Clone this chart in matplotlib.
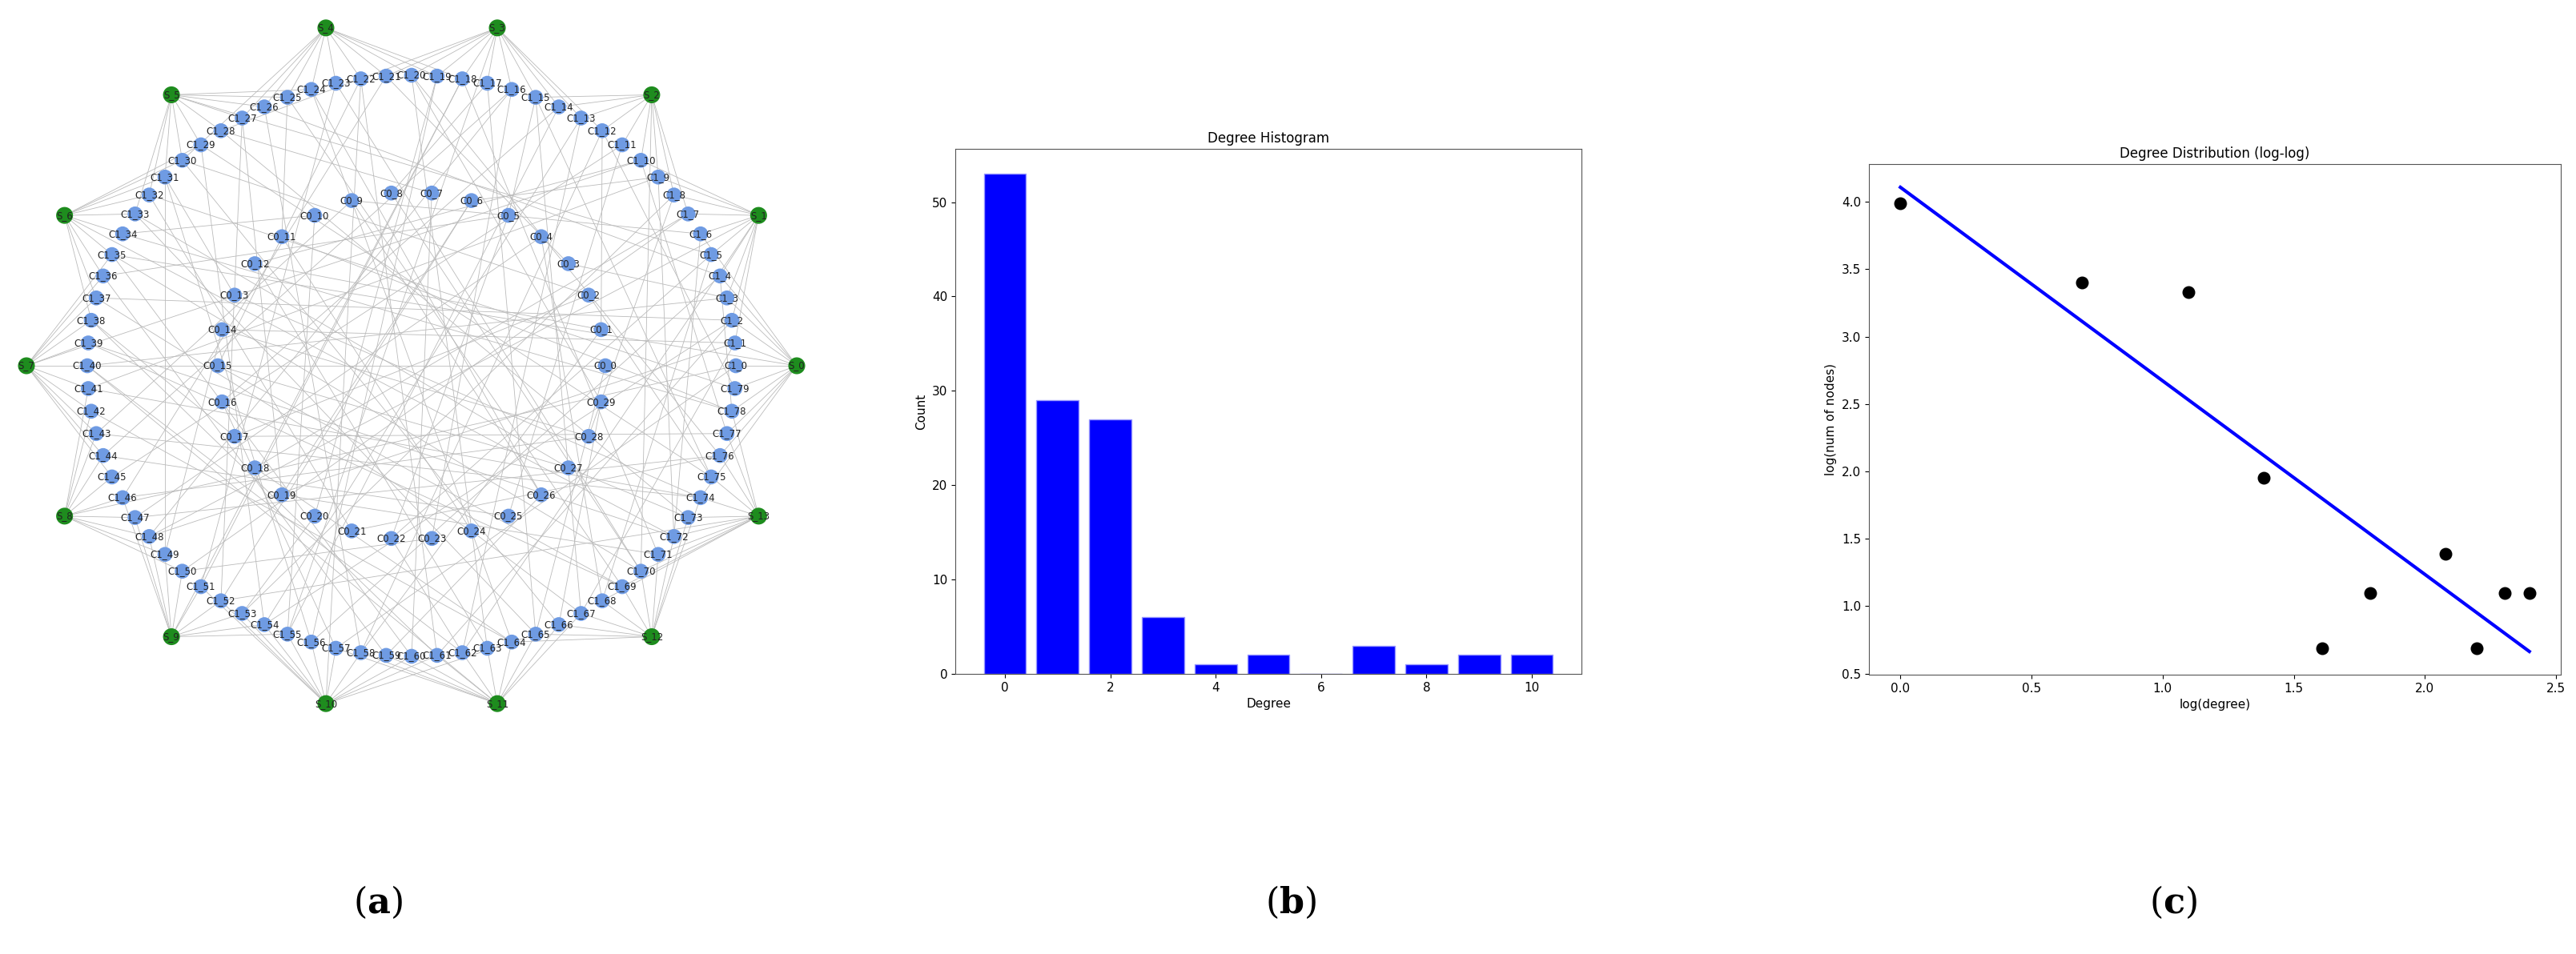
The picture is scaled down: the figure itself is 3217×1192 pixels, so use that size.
import numpy as np
import matplotlib
matplotlib.use("Agg")
import matplotlib.pyplot as plt

# ---------------- data ----------------
s_names = [f"S_{k}" for k in range(14)]
c0_names = [f"C0_{i}" for i in range(30)]
c1_names = [f"C1_{j}" for j in range(80)]

# S node -> C1 neighbours
s_links = [
    [74, 76, 77, 78, 79, 0, 1, 2, 3, 4, 6, 35],
    [1, 2, 3, 4, 5, 6, 7, 8, 9, 10, 62, 48],
    [7, 8, 9, 10, 11, 12, 13, 14, 15, 70],
    [12, 13, 14, 15, 16, 17, 18, 19, 20, 21, 28, 55],
    [18, 19, 20, 21, 22, 23, 24, 25, 26, 27, 30],
    [24, 25, 26, 27, 28, 29, 30, 31, 32, 33, 5],
    [29, 30, 31, 32, 33, 34, 35, 36, 37, 38, 72],
    [35, 36, 37, 38, 39, 40, 41, 42, 43, 44, 45, 10],
    [41, 42, 43, 44, 45, 46, 47, 48, 49, 50, 0],
    [46, 47, 48, 49, 50, 51, 52, 53, 54, 55, 18],
    [51, 52, 53, 54, 55, 56, 57, 58, 59, 60, 61, 65, 22],
    [57, 58, 59, 60, 61, 62, 63, 64, 65, 66, 67, 40],
    [64, 65, 66, 67, 68, 69, 70, 71, 72, 73, 74],
    [68, 69, 70, 71, 72, 73, 74, 75, 76, 77, 78, 52],
]
# C-C edges: indices 0-29 = C0_i, 30-109 = C1_(idx-30)
cc_edges = [
    (0, 70), (0, 95), (1, 42), (1, 88), (2, 60), (2, 105), (3, 51), (3, 33),
    (4, 77), (4, 98), (5, 45), (5, 66), (6, 82), (6, 39), (7, 90), (7, 58),
    (8, 100), (8, 47), (9, 73), (9, 36), (10, 85), (10, 64), (11, 108), (11, 55),
    (12, 93), (12, 40), (13, 104), (13, 61), (14, 79), (14, 31), (15, 99), (15, 52),
    (16, 87), (16, 44), (17, 107), (17, 68), (18, 94), (18, 37), (19, 101), (19, 57),
    (20, 83), (20, 49), (21, 106), (21, 62), (22, 92), (22, 35), (23, 80), (23, 46),
    (24, 97), (24, 67), (25, 74), (25, 41), (26, 89), (26, 54), (27, 103), (27, 63),
    (28, 76), (28, 38), (29, 96), (29, 50),
    (31, 78), (32, 91), (34, 86), (36, 102), (39, 71), (42, 109), (43, 84),
    (45, 97), (48, 81), (50, 93), (53, 100), (56, 88), (59, 105), (60, 96),
    (61, 79), (64, 108), (65, 90), (69, 102), (70, 33), (72, 94), (75, 41),
    (77, 106), (80, 37), (82, 57), (85, 44), (87, 30), (89, 66), (91, 52),
    (95, 47), (98, 35), (99, 69), (101, 48), (103, 58), (104, 73), (107, 40),
    (109, 62), (32, 67), (34, 56), (38, 83), (43, 92), (46, 74), (49, 86),
    (51, 76), (53, 81), (55, 99), (59, 84), (63, 95), (68, 91), (71, 104),
    (78, 46), (84, 32), (86, 61), (88, 42), (92, 70), (94, 54), (97, 31),
    (100, 65), (102, 39), (105, 45), (106, 50), (108, 34), (2, 17), (5, 22),
    (9, 26), (12, 1), (14, 28), (19, 6), (24, 11), (27, 15),
]

hist_degree = [0, 1, 2, 3, 4, 5, 6, 7, 8, 9, 10]
hist_count = [53, 29, 27, 6, 1, 2, 0, 3, 1, 2, 2]

log_degree = [0.0, 0.693, 1.099, 1.386, 1.609, 1.792, 2.079, 2.197, 2.303, 2.398]
log_nodes = [3.99, 3.40, 3.33, 1.95, 0.69, 1.10, 1.39, 0.69, 1.10, 1.10]

panel_labels = ["a", "b", "c"]

# ---------------- figure ----------------
plt.rcParams["mathtext.fontset"] = "dejavuserif"
W, H = 3217, 1192
fig = plt.figure(figsize=(W / 100, H / 100), dpi=100)

def px_axes(l, t, r, b):
    return fig.add_axes([l / W, 1 - b / H, (r - l) / W, (b - t) / H])

# (a) network, shell layout in pixel coords
axa = px_axes(0, 0, 1030, 930)
axa.set_xlim(0, 1030)
axa.set_ylim(930, 0)
axa.axis("off")
cx, cy = 514, 457

def ring(n, rx, ry):
    ang = 2 * np.pi * np.arange(n) / n
    return cx + rx * np.cos(ang), cy - ry * np.sin(ang)

sx, sy = ring(14, 481, 433)
c0x, c0y = ring(30, 242, 217)
c1x, c1y = ring(80, 405, 363)
cxs = np.concatenate([c0x, c1x])
cys = np.concatenate([c0y, c1y])

for k, lst in enumerate(s_links):
    for j in lst:
        axa.plot([sx[k], c1x[j]], [sy[k], c1y[j]], color="#bbbbbb", lw=0.6, zorder=1)
for a, b in cc_edges:
    axa.plot([cxs[a], cxs[b]], [cys[a], cys[b]], color="#bbbbbb", lw=0.6, zorder=1)

axa.scatter(cxs, cys, s=180, color="#6f9be3", zorder=3, edgecolors="none")
axa.scatter(sx, sy, s=230, color="#1e8c1e", zorder=3, edgecolors="none")
for name, x, y in zip(c0_names + c1_names, cxs, cys):
    axa.text(x, y, name, fontsize=8.5, ha="center", va="center", color="#222222", zorder=4)
for name, x, y in zip(s_names, sx, sy):
    axa.text(x, y, name, fontsize=8.5, ha="center", va="center", color="#222222", zorder=4)

# (b) histogram
axb = px_axes(1193, 186, 1975, 842)
axb.bar(hist_degree, hist_count, width=0.8, color="#0000ff", edgecolor="#9999ff", linewidth=1)
axb.set_title("Degree Histogram", fontsize=12)
axb.set_xlabel("Degree", fontsize=11)
axb.set_ylabel("Count", fontsize=11)
axb.tick_params(labelsize=11)

# (c) log-log
axc = px_axes(2334, 205, 3198, 843)
axc.scatter(log_degree, log_nodes, s=110, color="black", zorder=3)
coef = np.polyfit(log_degree, log_nodes, 1)
xl = np.array([log_degree[0], log_degree[-1]])
axc.plot(xl, np.polyval(coef, xl), color="#0000ff", lw=3)
axc.set_title("Degree Distribution (log-log)", fontsize=12)
axc.set_xlabel("log(degree)", fontsize=11)
axc.set_ylabel("log(num of nodes)", fontsize=11)
axc.tick_params(labelsize=11)
axc.set_xticks([0.0, 0.5, 1.0, 1.5, 2.0, 2.5])

for ax in (axb, axc):
    for sp in ax.spines.values():
        sp.set_color("#555555")

for lab, x in zip(panel_labels, (472, 1612, 2714)):
    fig.text(x / W, 1 - 1127 / H, r"($\mathbf{" + lab + r"}$)", fontsize=32,
             ha="center", va="center", family="DejaVu Serif")

fig.savefig("out.png", dpi=100)
